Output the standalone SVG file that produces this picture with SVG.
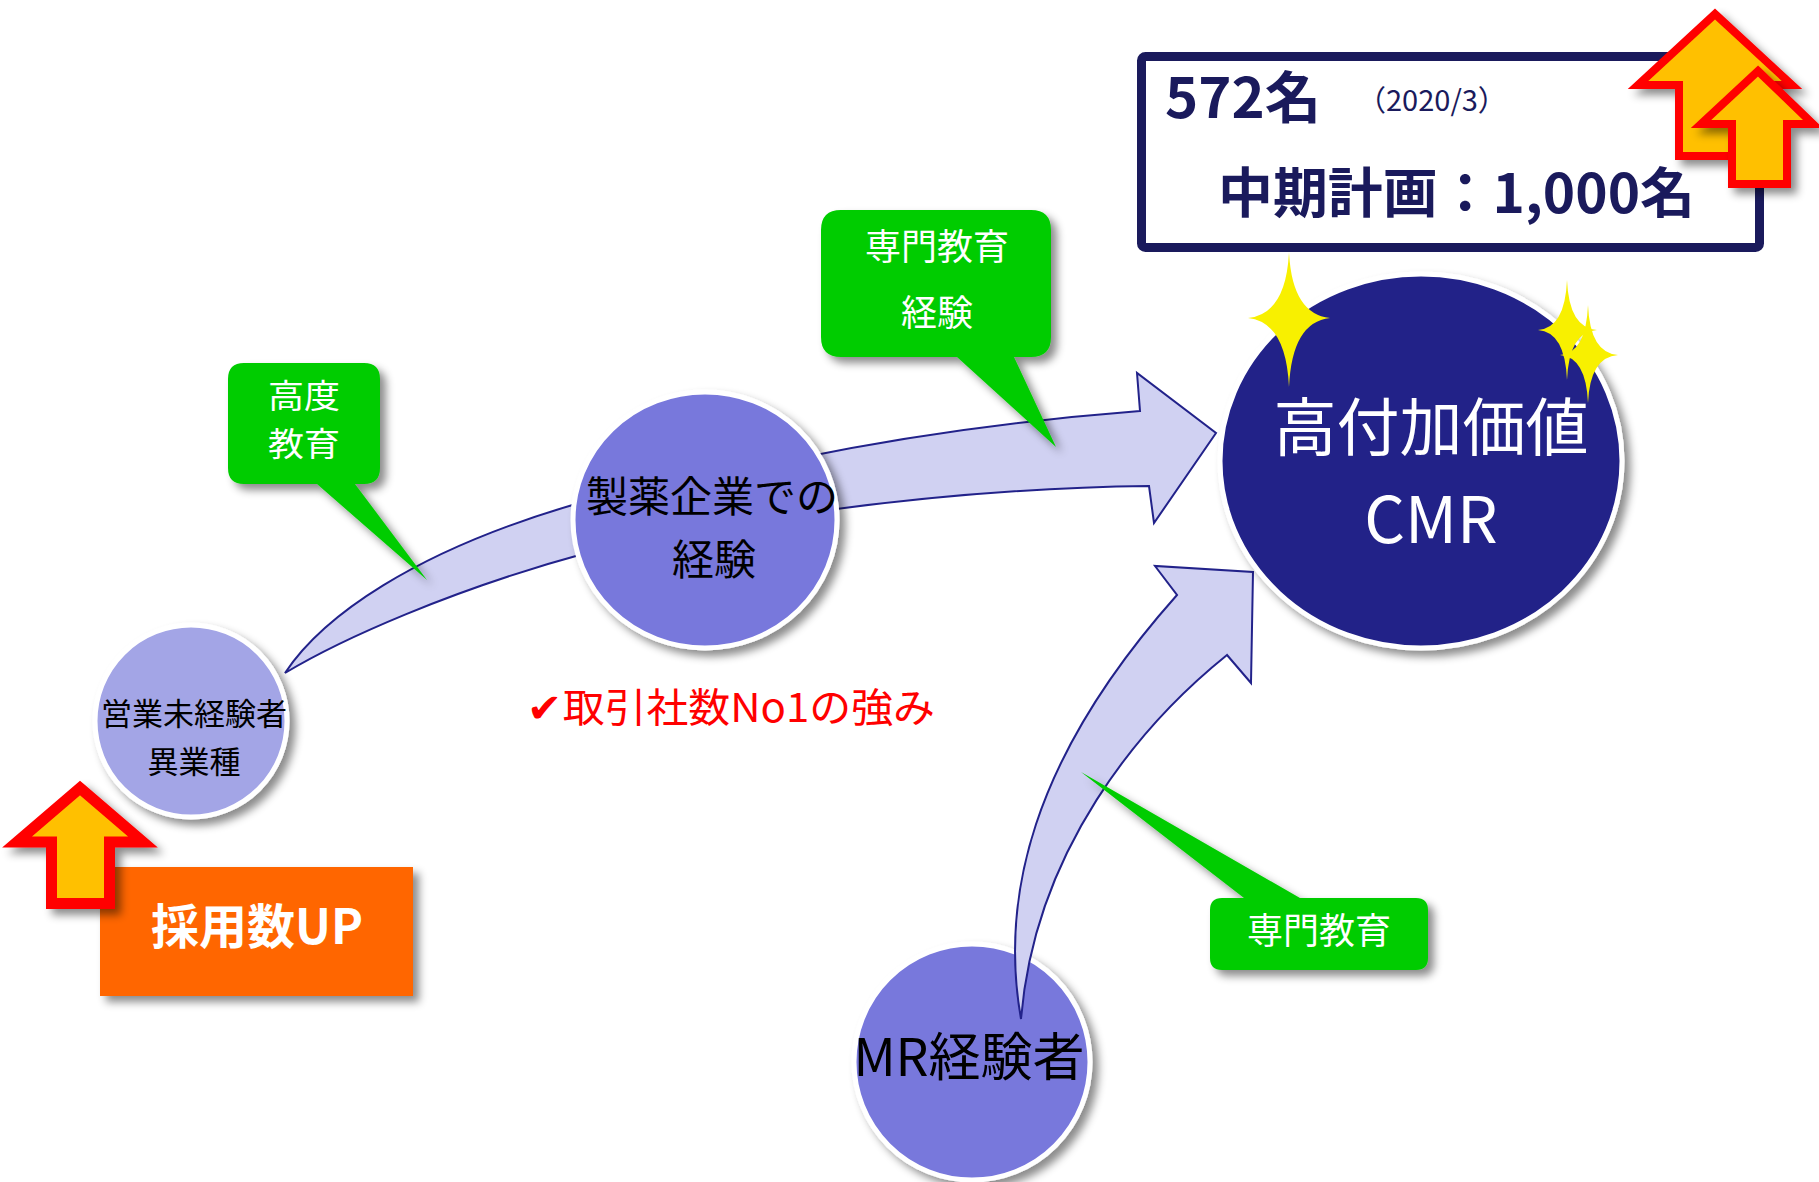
<svg xmlns="http://www.w3.org/2000/svg" width="1819" height="1182" viewBox="0 0 1819 1182">
<defs>
<filter id="sh" x="-20%" y="-20%" width="150%" height="150%">
<feDropShadow dx="6" dy="6" stdDeviation="4" flood-color="#000" flood-opacity="0.45"/>
</filter>
<style>
text{font-family:"Noto Sans CJK JP","Noto Sans",sans-serif}
.arrow{fill:#d0d1f2;stroke:#22228a;stroke-width:2;stroke-linejoin:miter}
.callout{fill:#00cc00;filter:url(#sh)}
.wt{fill:#fff}
.bk{fill:#000}
.node{stroke:#fff;stroke-width:5;filter:url(#sh)}
.up{fill:#ffc000;stroke:#ff0000;stroke-width:9;stroke-linejoin:miter;filter:url(#sh)}
.spark{fill:#f8f000}
.navy{fill:#1a1a5c}
</style>
</defs>
<rect width="1819" height="1182" fill="#fff"/>

<g id="node-mr">
<circle class="node" cx="972" cy="1062" r="118" fill="#7878dc"/>
<text class="bk" x="969" y="1076" font-size="52" text-anchor="middle">MR経験者</text>
</g>

<g id="connectors">
<path class="arrow" d="M285,673 C320,620 410,550 590,500 L590,552 C450,590 340,640 285,673 Z"/>
<path class="arrow" d="M800,458 Q960,425 1140,411 L1137,373 L1216,433 L1154,523 L1149,486 Q980,488 800,514 Z"/>
<path class="arrow" d="M1021,1019 C1000,900 1030,760 1177,595 L1155,566 L1253,572 L1251,683 L1227,655 C1140,725 1035,850 1021,1019 Z"/>
</g>

<g id="node-inexperienced">
<circle class="node" cx="191" cy="721" r="96" fill="#a3a5e6"/>
<text class="bk" x="194" y="725" font-size="31" text-anchor="middle">営業未経験者</text>
<text class="bk" x="194" y="773" font-size="31" text-anchor="middle">異業種</text>
</g>

<g id="node-pharma">
<ellipse class="node" cx="705" cy="520" rx="132" ry="128" fill="#7878dc"/>
<text class="bk" x="712" y="512" font-size="42" text-anchor="middle">製薬企業での</text>
<text class="bk" x="714" y="575" font-size="42" text-anchor="middle">経験</text>
</g>

<g id="node-cmr">
<ellipse class="node" cx="1421" cy="461" rx="201" ry="187" fill="#222288"/>
<text class="wt" x="1431" y="450" font-size="63" text-anchor="middle">高付加価値</text>
<text class="wt" x="1431" y="543" font-size="64" text-anchor="middle">CMR</text>
</g>

<g id="callout-advanced">
<path class="callout" d="M244,363 H364 Q380,363 380,379 V468 Q380,484 364,484 H355 L427,580 L317,484 H244 Q228,484 228,468 V379 Q228,363 244,363 Z"/>
<text class="wt" x="304" y="408" font-size="33" text-anchor="middle" textLength="72" lengthAdjust="spacingAndGlyphs">高度</text>
<text class="wt" x="304" y="456" font-size="33" text-anchor="middle" textLength="72" lengthAdjust="spacingAndGlyphs">教育</text>
</g>

<g id="callout-special-exp">
<path class="callout" d="M841,210 H1031 Q1051,210 1051,230 V337 Q1051,357 1031,357 H1014 L1056,447 L957,357 H841 Q821,357 821,337 V230 Q821,210 841,210 Z"/>
<text class="wt" x="937" y="260" font-size="36" text-anchor="middle">専門教育</text>
<text class="wt" x="937" y="326" font-size="36" text-anchor="middle">経験</text>
</g>

<g id="callout-special">
<path class="callout" d="M1222,898 H1244 L1081,772 L1300,898 H1416 Q1428,898 1428,910 V958 Q1428,970 1416,970 H1222 Q1210,970 1210,958 V910 Q1210,898 1222,898 Z"/>
<text class="wt" x="1319" y="944" font-size="36" text-anchor="middle">専門教育</text>
</g>

<g id="strength-note">
<text x="527" y="722" font-size="40" fill="#ff0000" textLength="408" lengthAdjust="spacingAndGlyphs">✔取引社数No1の強み</text>
</g>

<g id="hiring-up">
<rect x="100" y="867" width="313" height="129" fill="#ff6600" filter="url(#sh)"/>
<text class="wt" x="257" y="944" font-size="48" font-weight="bold" text-anchor="middle">採用数UP</text>
<path class="up" style="stroke-width:11" d="M80,788 L143,842 H109.5 V903.5 H51.5 V842 H17 Z"/>
</g>

<g id="target-box">
<rect x="1141.5" y="56.5" width="618" height="191" rx="4" fill="#fff" stroke="#1a1a5c" stroke-width="9"/>
<text class="navy" x="1165" y="118" font-size="56" font-weight="bold" textLength="156" lengthAdjust="spacingAndGlyphs">572名</text>
<text class="navy" x="1357" y="111" font-size="29">（2020/3）</text>
<text class="navy" x="1218" y="213" font-size="54" font-weight="bold" textLength="477" lengthAdjust="spacingAndGlyphs">中期計画：1,000名</text>
</g>

<g id="up-arrows">
<path class="up" style="stroke-width:8" d="M1715,14 L1792,85 H1751 V156 H1679 V85 H1638 Z"/>
<path class="up" style="stroke-width:8" d="M1758,71 L1813,124 H1787 V184 H1732 V124 H1701 Z"/>
</g>

<g id="sparkles">
<path class="spark" d="M1289,252 Q1292,314 1330,318 Q1292,322 1289,387 Q1286,322 1248,318 Q1286,314 1289,252 Z"/>
<path class="spark" d="M1567,280 Q1569,328 1597,330 Q1569,332 1567,380 Q1565,332 1538,330 Q1565,328 1567,280 Z"/>
<path class="spark" d="M1588,305 Q1590,353 1618,355 Q1590,357 1588,403 Q1586,357 1560,355 Q1586,353 1588,305 Z"/>
</g>
</svg>
